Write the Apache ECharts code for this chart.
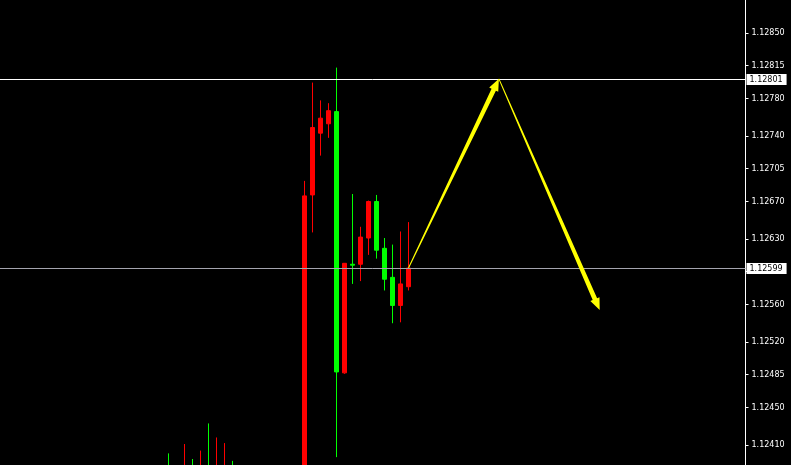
<!DOCTYPE html>
<html>
<head>
<meta charset="utf-8">
<script src="https://cdn.jsdelivr.net/npm/echarts@6/dist/echarts.min.js"></script>
<style>
html,body{margin:0;padding:0;background:#000;}
#chart{width:791px;height:465px;}
</style>
</head>
<body>
<div id="chart"></div>
<script>
// Bar index (position along the time axis), one per candle
var barIndex = [0,1,2,3,4,5,6,7,8,9,10,11,12,13,14,15,16,17,18,19,20,21,22,23,24,25,26,27,28,29,30];
// OHLC values (null = bar entirely below the visible price range)
var opens  = [1.12380,null,1.12372,1.12383,1.12374,1.12386,1.12372,1.12370,1.12385,null,null,null,null,null,null,null,null,1.12370,1.12677,1.12743,1.12753,1.12766,1.12487,1.12603,1.12603,1.12631,1.12670,1.12620,1.12589,1.12559,1.12579];
var closes = [1.12365,null,1.12384,1.12371,1.12386,1.12372,1.12380,1.12382,1.12372,null,null,null,null,null,null,null,null,1.12676,1.12749,1.12759,1.12767,1.12488,1.12604,1.12602,1.12632,1.12670,1.12618,1.12587,1.12559,1.12582,1.12599];
var lows   = [1.12355,null,1.12365,1.12362,1.12368,1.12366,1.12365,1.12364,1.12366,null,null,null,null,null,null,null,null,1.12360,1.12637,1.12719,1.12738,1.12397,1.12486,1.12582,1.12585,1.12613,1.12609,1.12575,1.12540,1.12541,1.12575];
var highs  = [1.12401,null,1.12411,1.12395,1.12404,1.12433,1.12418,1.12412,1.12393,null,null,null,null,null,null,null,null,1.12692,1.12797,1.12778,1.12775,1.12813,1.12604,1.12678,1.12643,1.12671,1.12677,1.12631,1.12624,1.12638,1.12648];
// Price-axis tick labels
var priceTicks = [1.12850,1.12815,1.12780,1.12740,1.12705,1.12670,1.12630,1.12595,1.12560,1.12520,1.12485,1.12450,1.12410];
// Horizontal price levels
var levelPrices = [1.12801, 1.12599];
var levelColors = ['#ffffff', '#a4a4ae'];
// Arrow drawings: [startIndex, startPrice, endIndex, endPrice]
var arrowStartIdx   = [30, 41.3];
var arrowStartPrice = [1.12599, 1.12801];
var arrowEndIdx     = [41.3, 53.9];
var arrowEndPrice   = [1.12801, 1.12554];

var candleData = barIndex.map(function (x, i) {
  if (opens[i] === null) return [x, '-', '-', '-', '-'];
  return [x, opens[i], closes[i], lows[i], highs[i]];
});
var arrowData = arrowStartIdx.map(function (x, i) {
  return [x, arrowStartPrice[i], arrowEndIdx[i], arrowEndPrice[i]];
});

function renderArrow(params, api) {
  var p1 = api.coord([api.value(0), api.value(1)]);
  var p2 = api.coord([api.value(2), api.value(3)]);
  var dx = p2[0] - p1[0], dy = p2[1] - p1[1];
  var len = Math.sqrt(dx * dx + dy * dy);
  var ux = dx / len, uy = dy / len;
  var nx = -uy, ny = ux;
  var headLen = 12, headHalf = 5, w0 = 0.5, w1 = 2.4;
  var bx = p2[0] - ux * headLen, by = p2[1] - uy * headLen;
  var pts = [
    [p1[0] + nx * w0, p1[1] + ny * w0],
    [bx + nx * w1, by + ny * w1],
    [bx + nx * headHalf, by + ny * headHalf],
    [p2[0], p2[1]],
    [bx - nx * headHalf, by - ny * headHalf],
    [bx - nx * w1, by - ny * w1],
    [p1[0] - nx * w0, p1[1] - ny * w0]
  ];
  return {
    type: 'polygon',
    shape: { points: pts },
    style: { fill: '#ffff00', stroke: null }
  };
}

function renderLevel(params, api) {
  var y = api.coord([0, api.value(0)])[1];
  var cs = params.coordSys;
  var color = levelColors[params.dataIndex];
  return {
    type: 'group',
    children: [
      {
        type: 'line',
        shape: { x1: cs.x, y1: Math.round(y) + 0.5, x2: cs.x + cs.width, y2: Math.round(y) + 0.5 },
        style: { stroke: color, lineWidth: 1 }
      },
      {
        type: 'text',
        x: cs.x + cs.width + 1,
        y: Math.round(y) + 0.5,
        style: {
          text: api.value(0).toFixed(5),
          fill: '#000000',
          backgroundColor: '#ffffff',
          font: '8px "DejaVu Sans"',
          verticalAlign: 'middle',
          align: 'left',
          padding: [1, 4, 1, 3],
          lineHeight: 9
        },
        z2: 10
      }
    ]
  };
}

var chart = echarts.init(document.getElementById('chart'));
chart.setOption({
  backgroundColor: '#000000',
  animation: false,
  grid: { left: 0, right: 45.5, top: 0, bottom: 0 },
  xAxis: {
    type: 'value',
    min: -21.0625,
    max: 72.125,
    show: false,
    splitLine: { show: false }
  },
  yAxis: {
    type: 'value',
    position: 'right',
    min: 1.123886,
    max: 1.128852,
    scale: true,
    splitLine: { show: false },
    axisLine: { show: true, onZero: false, lineStyle: { color: '#ffffff', width: 1 } },
    axisTick: {
      show: true, length: 3, inside: false,
      customValues: priceTicks,
      lineStyle: { color: '#ffffff' }
    },
    axisLabel: {
      show: true,
      customValues: priceTicks,
      margin: 6,
      color: '#ffffff',
      fontFamily: 'DejaVu Sans',
      fontSize: 8,
      formatter: function (v) { return v.toFixed(5); }
    }
  },
  series: [
    {
      type: 'candlestick',
      data: candleData,
      encode: { x: 0, y: [1, 2, 3, 4] },
      barWidth: 4,
      clip: true,
      itemStyle: {
        color: '#ff0000',
        color0: '#00ff00',
        borderColor: '#ff0000',
        borderColor0: '#00ff00',
        borderWidth: 1
      }
    },
    {
      type: 'custom',
      data: levelPrices.map(function (p) { return [p]; }),
      encode: { y: 0 },
      renderItem: renderLevel,
      clip: false,
      z: 4
    },
    {
      type: 'custom',
      data: arrowData,
      encode: { x: [0, 2], y: [1, 3] },
      renderItem: renderArrow,
      clip: false,
      z: 5
    }
  ]
});
</script>
</body>
</html>
